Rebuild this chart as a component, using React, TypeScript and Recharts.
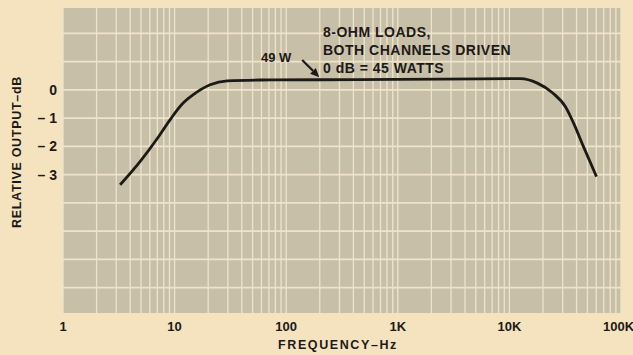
import React from 'react';
import { LineChart, Line, XAxis, YAxis, CartesianGrid, ReferenceLine } from 'recharts';

// frequency response
const freqHz = [3.25, 4.9, 6.97, 9.1, 11.7, 14.6, 20.8, 29.6, 58, 200, 1000, 5500, 12600, 17800, 24300, 31800, 37500, 46000, 60300];
const outputDb = [-3.36, -2.54, -1.73, -1.06, -0.5, -0.18, 0.18, 0.32, 0.35, 0.36, 0.37, 0.39, 0.4, 0.24, -0.1, -0.6, -1.17, -2.0, -3.07];

const xTicks = [1, 10, 100, 1000, 10000, 100000];
const xTickLabels = ['1', '10', '100', '1K', '10K', '100K'];
const yTicks = [0, -1, -2, -3];
const hGrid = [2, 1, 0, -1, -2, -3, -4, -5, -6, -7];

// arrow from "49 W" note to the curve
const arrowFrom = { x: 139, y: 1.06 };
const arrowTo = { x: 198, y: 0.45 };

const PAGE = '#f5e2bf';
const PLOT = '#c8bfa9';
const GRID = '#efe4ca';
const INK = '#1c1a17';
const FONT = '"Liberation Sans", Arial, sans-serif';

const data = freqHz.map((f, i) => ({ f: f, db: outputDb[i] }));

const vGrid: number[] = [];
for (let d = 1; d < 100000; d *= 10) {
	for (let k = 1; k < 10; k++) vGrid.push(k * d);
}
vGrid.push(100000);

function Arrow(props: any) {
	const { x1, y1, x2, y2 } = props;
	const ang = Math.atan2(y2 - y1, x2 - x1);
	const len = 9;
	const w = 4;
	const bx = x2 - len * Math.cos(ang);
	const by = y2 - len * Math.sin(ang);
	const px = -Math.sin(ang) * w;
	const py = Math.cos(ang) * w;
	return (
		<g>
			<line x1={x1} y1={y1} x2={bx} y2={by} stroke={INK} strokeWidth={2.2} />
			<polygon points={`${x2},${y2} ${bx + px},${by + py} ${bx - px},${by - py}`} fill={INK} />
		</g>
	);
}

const txt: React.CSSProperties = {
	position: 'absolute',
	fontFamily: FONT,
	color: INK,
	whiteSpace: 'nowrap',
	fontWeight: 'bold',
};

export default function App() {
	return (
		<div style={{ position: 'absolute', left: 0, top: 0, width: 633, height: 355, background: PAGE, overflow: 'hidden' }}>
			<LineChart width={633} height={355} data={data} margin={{ top: 8, right: 12, left: 0, bottom: 0 }}>
				<CartesianGrid fill={PLOT} stroke="none" vertical={false} horizontal={false} />
				{vGrid.map((v) => (
					<ReferenceLine key={'v' + v} x={v} stroke={GRID} strokeWidth={1.3} />
				))}
				{hGrid.map((v) => (
					<ReferenceLine key={'h' + v} y={v} stroke={GRID} strokeWidth={1.6} />
				))}
				<XAxis
					dataKey="f"
					type="number"
					scale="log"
					domain={[1, 100000]}
					ticks={xTicks}
					tickFormatter={(v: number) => xTickLabels[xTicks.indexOf(v)]}
					axisLine={false}
					tickLine={false}
					tickSize={0}
					tickMargin={9}
					height={42}
					tick={{ fill: INK, fontSize: 13, fontWeight: 'bold', fontFamily: FONT }}
					allowDataOverflow
				/>
				<YAxis
					type="number"
					domain={[-7.9, 2.9]}
					ticks={yTicks}
					tickFormatter={(v: number) => (v === 0 ? '0' : '\u2013 ' + Math.abs(v))}
					axisLine={false}
					tickLine={false}
					tickSize={0}
					tickMargin={6}
					width={63}
					tick={{ fill: INK, fontSize: 14, fontWeight: 'bold', fontFamily: FONT }}
					allowDataOverflow
				/>
				<ReferenceLine segment={[arrowFrom, arrowTo]} shape={Arrow} />
				<Line
					dataKey="db"
					type="monotone"
					stroke={INK}
					strokeWidth={2.8}
					dot={false}
					isAnimationActive={false}
				/>
			</LineChart>
			<div style={{ ...txt, left: 261, top: 50, fontSize: 13 }}>49 W</div>
			<div style={{ ...txt, left: 323, top: 23, fontSize: 14, lineHeight: '18px', letterSpacing: 0.5 }}>
				8-OHM LOADS,<br />BOTH CHANNELS DRIVEN<br />0 dB = 45 WATTS
			</div>
			<div style={{ ...txt, left: 338, top: 338, fontSize: 12.5, letterSpacing: 1.6, transform: 'translateX(-50%)' }}>
				FREQUENCY–Hz
			</div>
			<div style={{ ...txt, left: 17, top: 152, fontSize: 12.5, letterSpacing: 0.7, transform: 'translate(-50%, -50%) rotate(-90deg)' }}>
				RELATIVE OUTPUT–dB
			</div>
		</div>
	);
}
